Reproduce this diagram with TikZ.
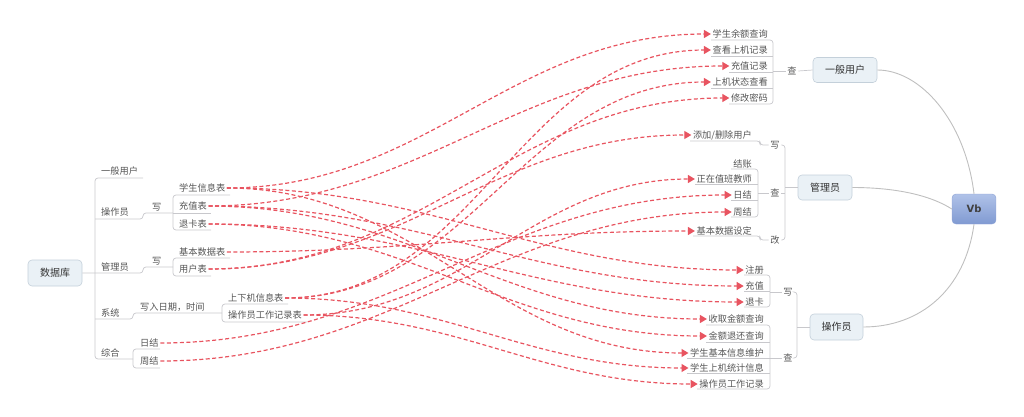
\documentclass[tikz,border=0pt]{standalone}
\usepackage{fontspec}
\setmainfont{Noto Sans CJK SC}
\newfontfamily\vbfont{DejaVu Sans}
\usetikzlibrary{arrows.meta}
\definecolor{relc}{RGB}{232,84,96}
\definecolor{treec}{RGB}{200,200,204}
\definecolor{txtc}{RGB}{85,85,85}
\definecolor{boxfill}{RGB}{234,241,246}
\definecolor{boxdraw}{RGB}{196,208,218}
\definecolor{vbtop}{RGB}{176,194,232}
\definecolor{vbbot}{RGB}{128,154,210}
\definecolor{vbdraw}{RGB}{140,162,212}
\begin{document}
\begin{tikzpicture}[x=1pt,y=-1pt,
  lbl/.style={inner sep=1.5pt, font=\fontsize{9.2}{10}\selectfont, text=txtc},
  topic/.style={draw=boxdraw, fill=boxfill, rounded corners=4pt, line width=0.6pt,
    font=\fontsize{10}{12}\selectfont, text=black!80, inner sep=0pt},
  tline/.style={draw=treec, line width=0.7pt, rounded corners=3pt},
  vline/.style={draw=black!25, line width=0.9pt},
  relline/.style={draw=relc, line width=1.2pt, dash pattern=on 4pt off 2.5pt,
    -{Triangle[length=7pt,width=8pt]}, out=0, in=180},
]
\useasboundingbox (0,0) rectangle (1024,417);

% ---------- topics ----------
\node[topic, minimum width=54pt, minimum height=26pt] (db) at (55,273) {数据库};
\node[topic, minimum width=64pt, minimum height=25pt] (u1) at (845,70) {一般用户};
\node[topic, minimum width=54pt, minimum height=25pt] (mg) at (825,187.5) {管理员};
\node[topic, minimum width=53pt, minimum height=26pt] (op) at (836.5,327) {操作员};
\node[draw=vbdraw, top color=vbtop, bottom color=vbbot, rounded corners=4pt,
  minimum width=44pt, minimum height=30pt, inner sep=0pt,
  font=\vbfont\bfseries\fontsize{10}{12}\selectfont, text=black!75] (vb) at (974,209) {Vb};

% ---------- left labels ----------
\node[lbl,anchor=west] (l1) at (99.5,171) {一般用户};
\node[lbl,anchor=west] (l2) at (99.5,212) {操作员};
\node[lbl,anchor=west] (l3) at (99.5,267) {管理员};
\node[lbl,anchor=west] (l4) at (99.5,313) {系统};
\node[lbl,anchor=west] (l5) at (99.5,353) {综合};
\node[lbl,anchor=west] (w1) at (150.5,207) {写};
\node[lbl,anchor=west] (w2) at (150.5,261) {写};
\node[lbl,anchor=west] (w3) at (138.5,307) {写入日期，时间};
\node[lbl,anchor=west] (s1) at (177.5,188) {学生信息表};
\node[lbl,anchor=west] (s2) at (177.5,206) {充值表};
\node[lbl,anchor=west] (s3) at (177.5,224) {退卡表};
\node[lbl,anchor=west] (s4) at (177.5,252) {基本数据表};
\node[lbl,anchor=west] (s5) at (177.5,269) {用户表};
\node[lbl,anchor=west] (s6) at (226.5,298) {上下机信息表};
\node[lbl,anchor=west] (s7) at (226.5,315) {操作员工作记录表};
\node[lbl,anchor=west] (s8) at (138.5,343) {日结};
\node[lbl,anchor=west] (s9) at (138.5,361) {周结};

% ---------- left tree lines ----------
\draw[tline] (143,178) -- (95,178) -- (95,359) -- (133,359);
\draw[tline] (95,219) -- (143,219) -- (143,213) -- (173,213);
\draw[tline] (db.east) -- (143,273) -- (143,267) -- (173,267);
\draw[tline] (95,319) -- (133,319) -- (133,313) -- (222,313);
\draw[tline] (230,195) -- (173,195) -- (173,230) -- (211,230);
\draw[tline] (173,213) -- (211,213);
\draw[tline] (230,258) -- (173,258) -- (173,276) -- (211,276);
\draw[tline] (288,304) -- (222,304) -- (222,322) -- (307,322);
\draw[tline] (160,349) -- (133,349) -- (133,368) -- (160,368);

% ---------- right labels: 一般用户 ----------
\node[lbl,anchor=east] (a1) at (769.5,34) {学生余额查询};
\node[lbl,anchor=east] (a2) at (769.5,50) {查看上机记录};
\node[lbl,anchor=east] (a3) at (769.5,66) {充值记录};
\node[lbl,anchor=east] (a4) at (769.5,82) {上机状态查看};
\node[lbl,anchor=east] (a5) at (769.5,98) {修改密码};
\node[lbl] (qa) at (792,71) {查};
\draw[tline] (711,40) -- (773,40) -- (773,104) -- (729,104);
\draw[tline] (711,56) -- (773,56);
\draw[tline] (729,72) -- (773,72);
\draw[tline] (711,88) -- (773,88);
\draw[tline] (773,71) -- (qa.west);
\draw[tline] (qa.east) -- (u1.west);

% ---------- right labels: 管理员 ----------
\node[lbl,anchor=east] (b0) at (753.5,135) {添加/删除用户};
\node[lbl,anchor=east] (b1) at (753.5,164) {结账};
\node[lbl,anchor=east] (b2) at (753.5,179) {正在值班教师};
\node[lbl,anchor=east] (b3) at (753.5,195) {日结};
\node[lbl,anchor=east] (b4) at (753.5,212) {周结};
\node[lbl,anchor=east] (b5) at (753.5,231) {基本数据设定};
\node[lbl] (wb) at (775,145) {写};
\node[lbl] (qb) at (775,193) {查};
\node[lbl] (gb) at (775,240) {改};
\draw[tline] (690,141) -- (760,141) -- (760,145) -- (wb.west);
\draw[tline] (wb.east) -- (785,145) -- (785,240) -- (gb.east);
\draw[tline] (785,187.5) -- (mg.west);
\draw[tline] (qb.east) -- (785,193);
\draw[tline] (731,169) -- (758,169) -- (758,217) -- (731,217);
\draw[tline] (695,184) -- (758,184);
\draw[tline] (731,200) -- (758,200);
\draw[tline] (758,193) -- (qb.west);
\draw[tline] (693,236) -- (760,236) -- (760,240) -- (gb.west);

% ---------- right labels: 操作员 ----------
\node[lbl,anchor=east] (c1) at (765.5,270) {注册};
\node[lbl,anchor=east] (c2) at (765.5,286) {充值};
\node[lbl,anchor=east] (c3) at (765.5,302) {退卡};
\node[lbl,anchor=east] (c4) at (765.5,319) {收取金额查询};
\node[lbl,anchor=east] (c5) at (765.5,336) {金额退还查询};
\node[lbl,anchor=east] (c6) at (765.5,353) {学生基本信息维护};
\node[lbl,anchor=east] (c7) at (765.5,368) {学生上机统计信息};
\node[lbl,anchor=east] (c8) at (765.5,384) {操作员工作记录};
\node[lbl] (wc) at (788,292) {写};
\node[lbl] (qc) at (788,358) {查};
\draw[tline] (wc.east) -- (797,292) -- (797,358) -- (qc.east);
\draw[tline] (797,327) -- (op.west);
\draw[tline] (744,275) -- (770,275) -- (770,307) -- (744,307);
\draw[tline] (744,291) -- (770,291);
\draw[tline] (770,292) -- (wc.west);
\draw[tline] (706,325) -- (770,325) -- (770,389) -- (697,389);
\draw[tline] (706,342) -- (770,342);
\draw[tline] (687,358) -- (770,358);
\draw[tline] (687,373) -- (770,373);
\draw[tline] (770,358) -- (qc.west);

% ---------- Vb connectors ----------
\draw[vline] (vb.north) .. controls (965,120) and (920,70) .. (u1.east);
\draw[vline] (vb.west) .. controls (925,192) and (885,187.5) .. (mg.east);
\draw[vline] (vb.south) .. controls (965,290) and (920,327) .. (op.east);

% ---------- relationships ----------
\draw[relline] (s1.east) to (a1.west);
\draw[relline] (s1.east) to (c1.west);
\draw[relline] (s1.east) to (c6.west);
\draw[relline] (s2.east) to (a3.west);
\draw[relline] (s2.east) to (c2.west);
\draw[relline] (s2.east) to (c4.west);
\draw[relline] (s3.east) to (c3.west);
\draw[relline] (s3.east) to (c5.west);
\draw[relline] (s4.east) to (b5.west);
\draw[relline] (s5.east) to (a5.west);
\draw[relline] (s5.east) to (b0.west);
\draw[relline] (s6.east) to (a2.west);
\draw[relline] (s6.east) to (a4.west);
\draw[relline] (s6.east) to (c7.west);
\draw[relline] (s7.east) to (b2.west);
\draw[relline] (s7.east) to (c8.west);
\draw[relline] (s8.east) to (b3.west);
\draw[relline] (s9.east) to (b4.west);
\end{tikzpicture}
\end{document}
